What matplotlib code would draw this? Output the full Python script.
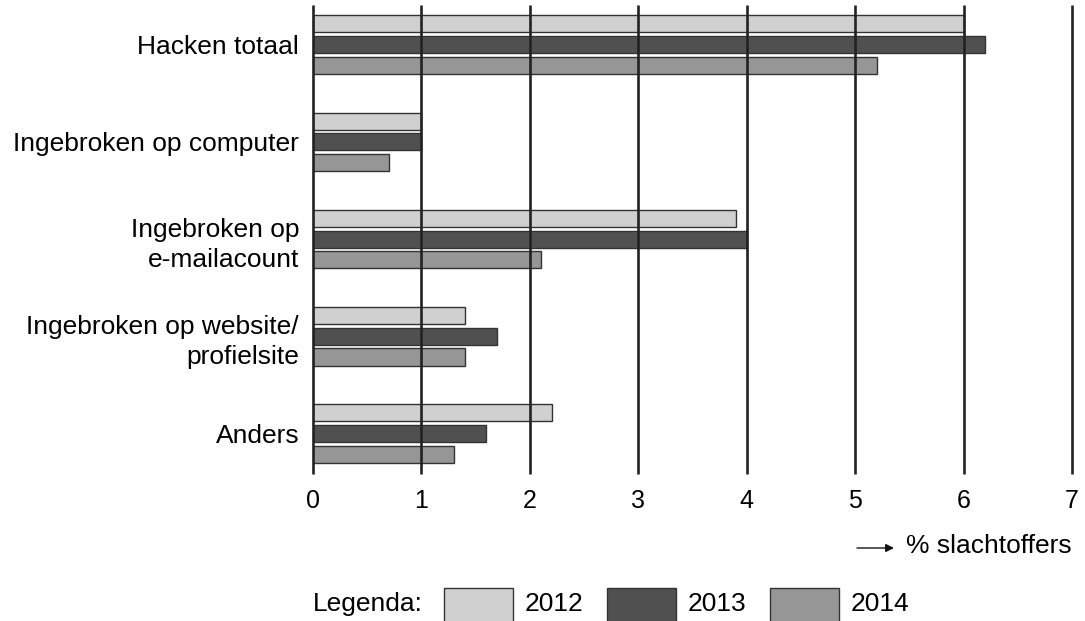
import matplotlib.pyplot as plt
from matplotlib.patches import Rectangle
import numpy as np

plt.rcParams['font.family'] = ['Liberation Sans', 'DejaVu Sans']

categories = ["Hacken totaal", "Ingebroken op computer", "Ingebroken op\ne-mailacount",
              "Ingebroken op website/\nprofielsite", "Anders"]
years = ["2012", "2013", "2014"]
values_2012 = [6.0, 1.0, 3.9, 1.4, 2.2]
values_2013 = [6.2, 1.0, 4.0, 1.7, 1.6]
values_2014 = [5.2, 0.7, 2.1, 1.4, 1.3]
ticks = [0, 1, 2, 3, 4, 5, 6, 7]

colors = ["#d0d0d0", "#505050", "#969696"]
edge = "#333333"

W, H = 1085, 621
fig = plt.figure(figsize=(W / 100, H / 100), dpi=100)
ax = fig.add_axes([313 / W, (H - 474) / H, 759 / W, 469 / H])

y = np.arange(len(categories))
bar_h = 0.175
offset = 0.213
for k, vals in enumerate([values_2012, values_2013, values_2014]):
    ax.barh(y + (k - 1) * offset, vals, height=bar_h, color=colors[k],
            edgecolor=edge, linewidth=1.0, zorder=2)

ax.vlines(ticks, -0.406, 4.416, colors="#222222", linewidth=1.9, zorder=3, clip_on=False)

ax.set_xlim(0, 7)
ax.set_ylim(4.416, -0.406)
for s in ax.spines.values():
    s.set_visible(False)
ax.set_xticks(ticks)
ax.set_xticklabels([str(t) for t in ticks], fontsize=18)
ax.tick_params(axis='x', length=0, pad=11)
ax.set_yticks(y)
ax.set_yticklabels(categories, fontsize=19, multialignment='right')
ax.tick_params(axis='y', length=0, pad=10)
for lab in ax.get_yticklabels():
    lab.set_linespacing(1.35)


def px(xp, yp):
    return xp / W, 1 - yp / H


# axis title with arrow
fig.text(*px(906, 546), "% slachtoffers", fontsize=19, ha='left', va='center')
ax.annotate("", xy=px(894, 548), xytext=px(857, 548),
            xycoords='figure fraction', textcoords='figure fraction',
            arrowprops=dict(arrowstyle='-|>', color='#111111', lw=1.0,
                            mutation_scale=12, shrinkA=0, shrinkB=0))

# legend
fig.text(*px(313, 604), "Legenda:", fontsize=19, ha='left', va='center')
box_x = [444, 607, 770]
for k, yr in enumerate(years):
    x0, y0 = px(box_x[k], 623)
    fig.patches.append(Rectangle((x0, y0), 69 / W, 35 / H, transform=fig.transFigure,
                                 facecolor=colors[k], edgecolor=edge, linewidth=1.0))
    fig.text(*px(box_x[k] + 81, 604), yr, fontsize=19, ha='left', va='center')

fig.savefig("out.png", dpi=100)
